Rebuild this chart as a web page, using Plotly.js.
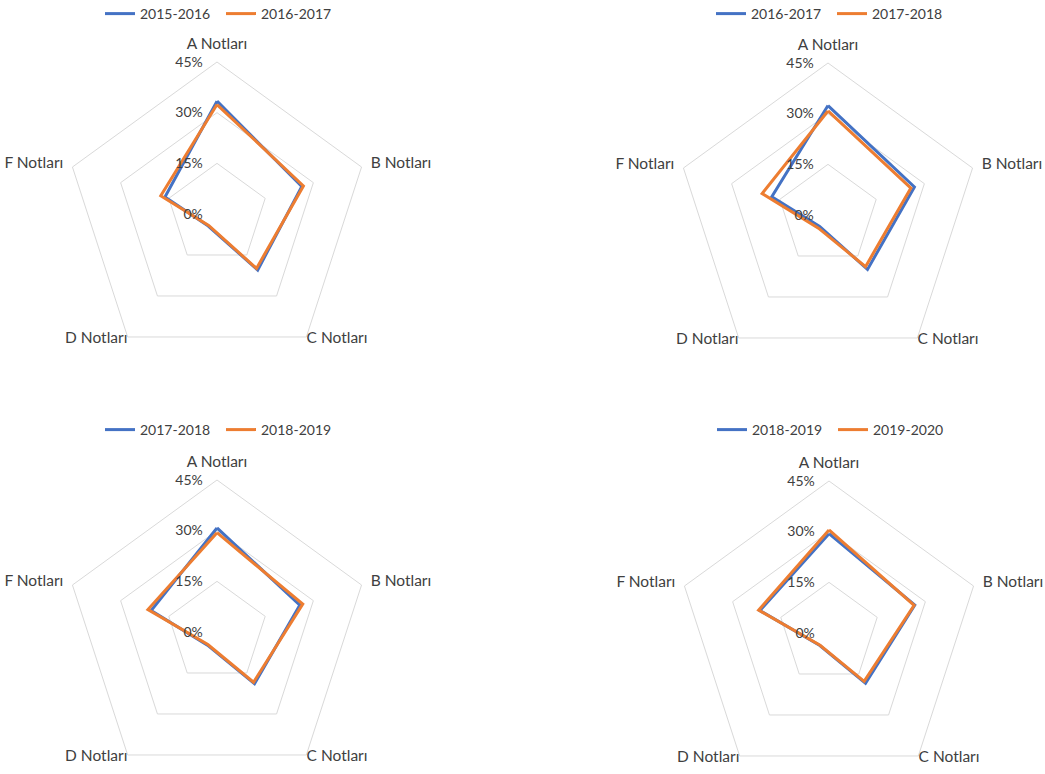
<!DOCTYPE html>
<html>
<head>
<meta charset="utf-8">
<script src="https://cdn.plot.ly/plotly-3.0.1.min.js"></script>
<style>
  html, body { margin: 0; padding: 0; overflow: hidden; background: #fff; }
  #chart { width: 1045px; height: 800px; }
</style>
</head>
<body>
<div id="chart"></div>
<script>
// ---- data ----
const categories = ['A Notları', 'B Notları', 'C Notları', 'D Notları', 'F Notları'];
const radialTickVals = [0, 15, 30, 45];
const radialTickText = ['0%', '15%', '30%', '45%'];

const years = ['2015-2016', '2016-2017', '2017-2018', '2018-2019', '2019-2020'];
const y2015_2016 = [33.4, 26.4, 20.5, 4.4, 16.2];
const y2016_2017 = [32.4, 26.9, 19.9, 4.2, 17.5];
const y2017_2018 = [30.8, 25.8, 18.9, 4.8, 20.5];
const y2018_2019 = [29.4, 26.7, 18.4, 4.6, 21.5];
const y2019_2020 = [30.5, 26.5, 17.7, 4.5, 21.9];

const seriesByYear = {
  '2015-2016': y2015_2016,
  '2016-2017': y2016_2017,
  '2017-2018': y2017_2018,
  '2018-2019': y2018_2019,
  '2019-2020': y2019_2020
};

// each panel compares two consecutive years
const panels = [
  ['2015-2016', '2016-2017'],
  ['2016-2017', '2017-2018'],
  ['2017-2018', '2018-2019'],
  ['2018-2019', '2019-2020']
];

// ---- layout geometry (pixels) ----
const W = 1045, H = 800;
const R = 152;
const centers = [[217, 214], [828, 215], [217, 632], [829, 633]];
const legendY = [14, 14, 430, 430];
const legendDX = 4;
const lowerLabelLift = 10;   // C/D labels sit beside their vertices (Excel style)
const colors = ['#4472C4', '#ED7D31'];
const FONT = 'Lato, "Open Sans", sans-serif';
const TXT = '#404040';
const radialPad = '\u2002\u2004';

// which category labels are drawn by the main axis vs. the lifted label layer
const upperLabels = new Set(['A Notları', 'B Notları', 'F Notları']);

const traces = [];
const layout = {
  width: W, height: H,
  margin: {l: 0, r: 0, t: 0, b: 0, autoexpand: false},
  paper_bgcolor: '#ffffff',
  font: {family: FONT, size: 14, color: TXT},
  showlegend: true
};

function dom(cx, cy, lift) {
  return {
    x: [(cx - R) / W, (cx + R) / W],
    y: [(H - cy - R + lift) / H, (H - cy + R + lift) / H]
  };
}

panels.forEach((pair, i) => {
  const pid = i === 0 ? 'polar' : 'polar' + (i + 1);
  const oid = 'polar' + (i + 5);
  const lid = i === 0 ? 'legend' : 'legend' + (i + 1);
  const [cx, cy] = centers[i];

  pair.forEach((yr, k) => {
    const vals = seriesByYear[yr];
    traces.push({
      type: 'scatterpolar',
      mode: 'lines',
      name: yr,
      r: vals.concat([vals[0]]),
      theta: categories.concat([categories[0]]),
      subplot: pid,
      legend: lid,
      line: {color: colors[k], width: 3},
      hoverinfo: 'name+theta+r'
    });
  });

  // invisible trace that anchors the label layer for the lower categories
  const v0 = seriesByYear[pair[0]];
  traces.push({
    type: 'scatterpolar',
    mode: 'lines',
    r: v0,
    theta: categories,
    subplot: oid,
    showlegend: false,
    hoverinfo: 'skip',
    opacity: 0,
    line: {width: 0, color: 'rgba(0,0,0,0)'}
  });

  layout[pid] = {
    domain: dom(cx, cy, 0),
    bgcolor: 'rgba(0,0,0,0)',
    gridshape: 'linear',
    angularaxis: {
      type: 'category',
      categoryarray: categories,
      direction: 'clockwise',
      rotation: 90,
      showgrid: false,
      showline: true,
      linecolor: '#D9D9D9',
      linewidth: 1,
      ticks: 'outside',
      ticklen: 6,
      tickcolor: 'rgba(0,0,0,0)',
      tickmode: 'array',
      tickvals: categories,
      ticktext: categories.map(c => upperLabels.has(c) ? c : ''),
      tickfont: {family: FONT, size: 15.5, color: TXT}
    },
    radialaxis: {
      range: [0, 45],
      tickmode: 'array',
      tickvals: radialTickVals,
      ticktext: radialTickText.map(t => t + radialPad),
      angle: 90,
      tickangle: 90,
      side: 'counterclockwise',
      showline: false,
      ticks: '',
      gridcolor: '#D9D9D9',
      gridwidth: 1,
      tickfont: {family: FONT, size: 14, color: TXT}
    }
  };

  layout[oid] = {
    domain: dom(cx, cy, lowerLabelLift),
    bgcolor: 'rgba(0,0,0,0)',
    gridshape: 'linear',
    angularaxis: {
      type: 'category',
      categoryarray: categories,
      direction: 'clockwise',
      rotation: 90,
      showgrid: false,
      showline: false,
      ticks: '',
      tickmode: 'array',
      tickvals: categories,
      ticktext: categories.map(c => upperLabels.has(c) ? '' : c),
      tickfont: {family: FONT, size: 15.5, color: TXT}
    },
    radialaxis: {
      range: [0, 45],
      visible: false
    }
  };

  layout[lid] = {
    orientation: 'h',
    x: (cx + legendDX) / W,
    xanchor: 'center',
    y: 1 - legendY[i] / H,
    yanchor: 'middle',
    font: {family: FONT, size: 14, color: TXT},
    bgcolor: 'rgba(0,0,0,0)',
    itemwidth: 30,
    entrywidth: 76,
    entrywidthmode: 'pixels'
  };
});

Plotly.newPlot('chart', traces, layout, {displayModeBar: false, staticPlot: true});
</script>
</body>
</html>
